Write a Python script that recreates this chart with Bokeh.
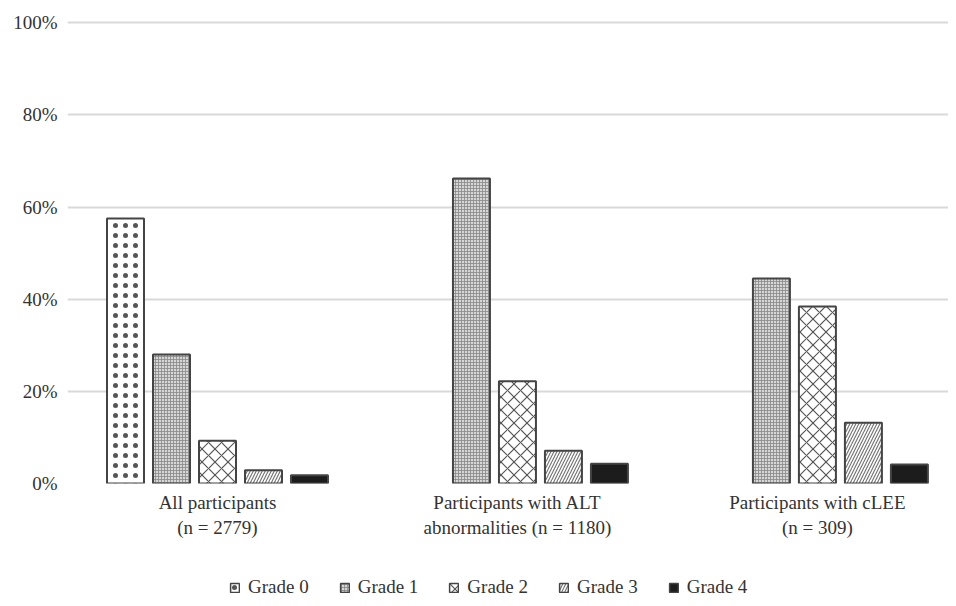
from bokeh.plotting import figure
from bokeh.models import Range1d, FixedTicker, Legend, LegendItem, ColumnDataSource
from bokeh.layouts import column
from bokeh.embed import file_html
from bokeh.resources import INLINE
import numpy as np

groups = ["All participants\n(n = 2779)",
          "Participants with ALT\nabnormalities (n = 1180)",
          "Participants with cLEE\n(n = 309)"]
grades = ["Grade 0", "Grade 1", "Grade 2", "Grade 3", "Grade 4"]
grade0 = [57.5, None, None]
grade1 = [28.0, 66.2, 44.5]
grade2 = [9.3, 22.2, 38.4]
grade3 = [2.9, 7.1, 13.2]
grade4 = [1.8, 4.3, 4.1]
series = [grade0, grade1, grade2, grade3, grade4]
y_ticks = [0, 20, 40, 60, 80, 100]
y_labels = ["0%", "20%", "40%", "60%", "80%", "100%"]

FONT = "Liberation Serif"
TXT = "#333333"

styles = [
    dict(fill_color="white", hatch_pattern="dot", hatch_scale=10, hatch_weight=0.5, hatch_color="#555555"),
    dict(fill_color="#d6d6d6", hatch_pattern="cross", hatch_scale=3, hatch_weight=0.8, hatch_color="#888888"),
    dict(fill_color="white", hatch_pattern="diagonal_cross", hatch_scale=13, hatch_weight=1.2, hatch_color="#555555"),
    dict(fill_color="white", hatch_pattern="right_diagonal_line", hatch_scale=6, hatch_weight=1.2, hatch_color="#777777"),
    dict(fill_color="#1c1c1c"),
]

p = figure(width=948, height=574, output_backend="svg", toolbar_location=None,
           x_range=Range1d(0, 2.937), y_range=Range1d(0, 100.5),
           min_border_left=67, min_border_right=0, min_border_top=20, min_border_bottom=91)
p.outline_line_color = None
p.background_fill_color = "white"

step = 46 / 300.0
width = 37 / 300.0
for k, (name, vals, st) in enumerate(zip(grades, series, styles)):
    xs = [i + 0.5 + (k - 2) * step for i in range(len(groups))]
    tops = [np.nan if v is None else v for v in vals]
    src = ColumnDataSource(dict(x=xs, top=tops))
    p.vbar(x="x", top="top", bottom=0, width=width, source=src,
           line_color="#444444", line_width=2, **st)

p.xaxis.ticker = FixedTicker(ticks=[i + 0.5 for i in range(len(groups))])
p.xaxis.major_label_overrides = {i + 0.5: g for i, g in enumerate(groups)}
p.yaxis.ticker = FixedTicker(ticks=y_ticks)
p.yaxis.major_label_overrides = {t: l for t, l in zip(y_ticks, y_labels)}

for ax in (p.xaxis, p.yaxis):
    ax.axis_line_color = None
    ax.major_tick_line_color = None
    ax.minor_tick_line_color = None
    ax.major_label_text_font = FONT
    ax.major_label_text_font_size = "19px"
    ax.major_label_text_color = TXT
p.yaxis.major_label_standoff = 4
p.xaxis.major_label_standoff = 2

p.xgrid.grid_line_color = None
p.ygrid.ticker = FixedTicker(ticks=y_ticks)
p.ygrid.grid_line_color = "#d9d9d9"
p.ygrid.grid_line_width = 2

# legend strip
lg = figure(width=948, height=24, output_backend="svg", toolbar_location=None,
            x_axis_type=None, y_axis_type=None,
            x_range=Range1d(0, 1), y_range=Range1d(0, 1),
            min_border_left=0, min_border_right=0, min_border_top=0, min_border_bottom=0)
lg.outline_line_color = None
lg.xgrid.grid_line_color = None
lg.ygrid.grid_line_color = None
items = []
for name, st in zip(grades, styles):
    r = lg.vbar(x=[np.nan], top=[np.nan], bottom=0, width=0.1,
                line_color="#444444", line_width=1.5, **st)
    items.append(LegendItem(label=name, renderers=[r]))
legend = Legend(items=items, orientation="horizontal", location=(162, 0),
                label_text_font=FONT, label_text_font_size="19px", label_text_color=TXT,
                glyph_width=11, glyph_height=11, label_standoff=8, spacing=30,
                padding=0, margin=0, border_line_color=None, background_fill_alpha=0)
lg.add_layout(legend, "center")

layout = column(p, lg, spacing=0)
open("out.html", "w").write(file_html(layout, INLINE))
